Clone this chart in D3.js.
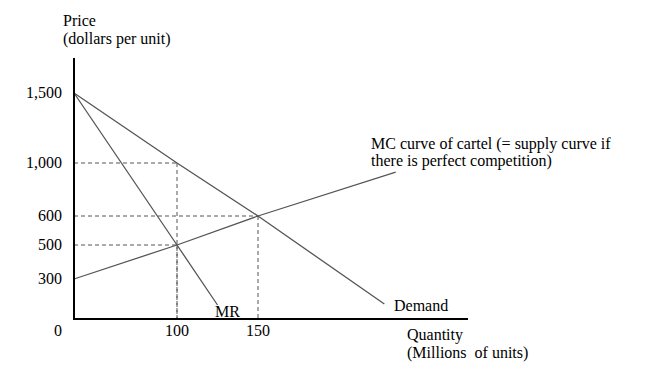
<!DOCTYPE html>
<html>
<head>
<meta charset="utf-8">
<script src="https://cdn.jsdelivr.net/npm/d3@7"></script>
<style>
html,body{margin:0;padding:0;background:#fff;}
svg{display:block;}
text{font-family:"Liberation Serif","Times New Roman",serif;font-size:16px;fill:#000;}
</style>
</head>
<body>
<svg id="chart" width="650" height="375"></svg>
<script>
// ---- data ----
const yTicks = [300, 500, 600, 1000, 1500];
const yTickLabels = ["300", "500", "600", "1,000", "1,500"];
const xTicks = [100, 150];
const xTickLabels = ["100", "150"];
// curves: [quantity, price]
const demand = [[0, 1500], [100, 1000], [150, 600], [228, 112]];
const mr = [[0, 1500], [100, 500], [125, 105]];
const mc = [[0, 300], [100, 500], [150, 600], [235, 932]];
// dashed guides: [quantity, price]
const guides = [[100, 1000], [150, 600], [100, 500]];

// ---- layout ----
const svg = d3.select("#chart");
const x0 = 74, yBase = 319;
// The original axes are schematic (uneven spacing) -> piecewise linear scales
const x = d3.scaleLinear().domain([0, 100, 150]).range([x0, 177, 258]);
const y = d3.scaleLinear().domain([0, 300, 500, 600, 1000, 1500]).range([yBase, 279, 245, 216, 163, 93]);

const lineCol = "#555";
const line = d3.line().x(d => x(d[0])).y(d => y(d[1]));

// dashed guides
guides.forEach(g => {
  svg.append("line").attr("x1", x0).attr("x2", x(g[0])).attr("y1", y(g[1])).attr("y2", y(g[1]))
    .attr("stroke", lineCol).attr("stroke-width", 1).attr("stroke-dasharray", "4,3");
  svg.append("line").attr("x1", x(g[0])).attr("x2", x(g[0])).attr("y1", y(g[1])).attr("y2", yBase)
    .attr("stroke", lineCol).attr("stroke-width", 1).attr("stroke-dasharray", "4,3");
});

// curves
[demand, mr, mc].forEach(c => {
  svg.append("path").attr("d", line(c)).attr("fill", "none")
    .attr("stroke", lineCol).attr("stroke-width", 1.3);
});

// axes
svg.append("line").attr("x1", x0).attr("x2", x0).attr("y1", 58).attr("y2", yBase + 1)
  .attr("stroke", "#000").attr("stroke-width", 2);
svg.append("line").attr("x1", x0 - 1).attr("x2", 468).attr("y1", yBase).attr("y2", yBase)
  .attr("stroke", "#000").attr("stroke-width", 2);

// y tick labels
yTicks.forEach((v, i) => {
  svg.append("text").attr("x", 62).attr("y", y(v) + 5).attr("text-anchor", "end").text(yTickLabels[i]);
});
svg.append("text").attr("x", 58).attr("y", 336).attr("text-anchor", "middle").text("0");
// x tick labels
xTicks.forEach((v, i) => {
  svg.append("text").attr("x", x(v)).attr("y", 336).attr("text-anchor", "middle").text(xTickLabels[i]);
});

// axis titles
svg.append("text").attr("x", 63).attr("y", 26).text("Price");
svg.append("text").attr("x", 63).attr("y", 44).text("(dollars per unit)");
svg.append("text").attr("x", 407).attr("y", 340).text("Quantity");
svg.append("text").attr("x", 407).attr("y", 358).text("(Millions\u00A0 of units)");

// curve labels
svg.append("text").attr("x", 215).attr("y", 317).text("MR");
svg.append("text").attr("x", 394).attr("y", 311).text("Demand");
svg.append("text").attr("x", 371).attr("y", 149).text("MC curve of cartel (= supply curve if");
svg.append("text").attr("x", 371).attr("y", 166).text("there is perfect competition)");
</script>
</body>
</html>
